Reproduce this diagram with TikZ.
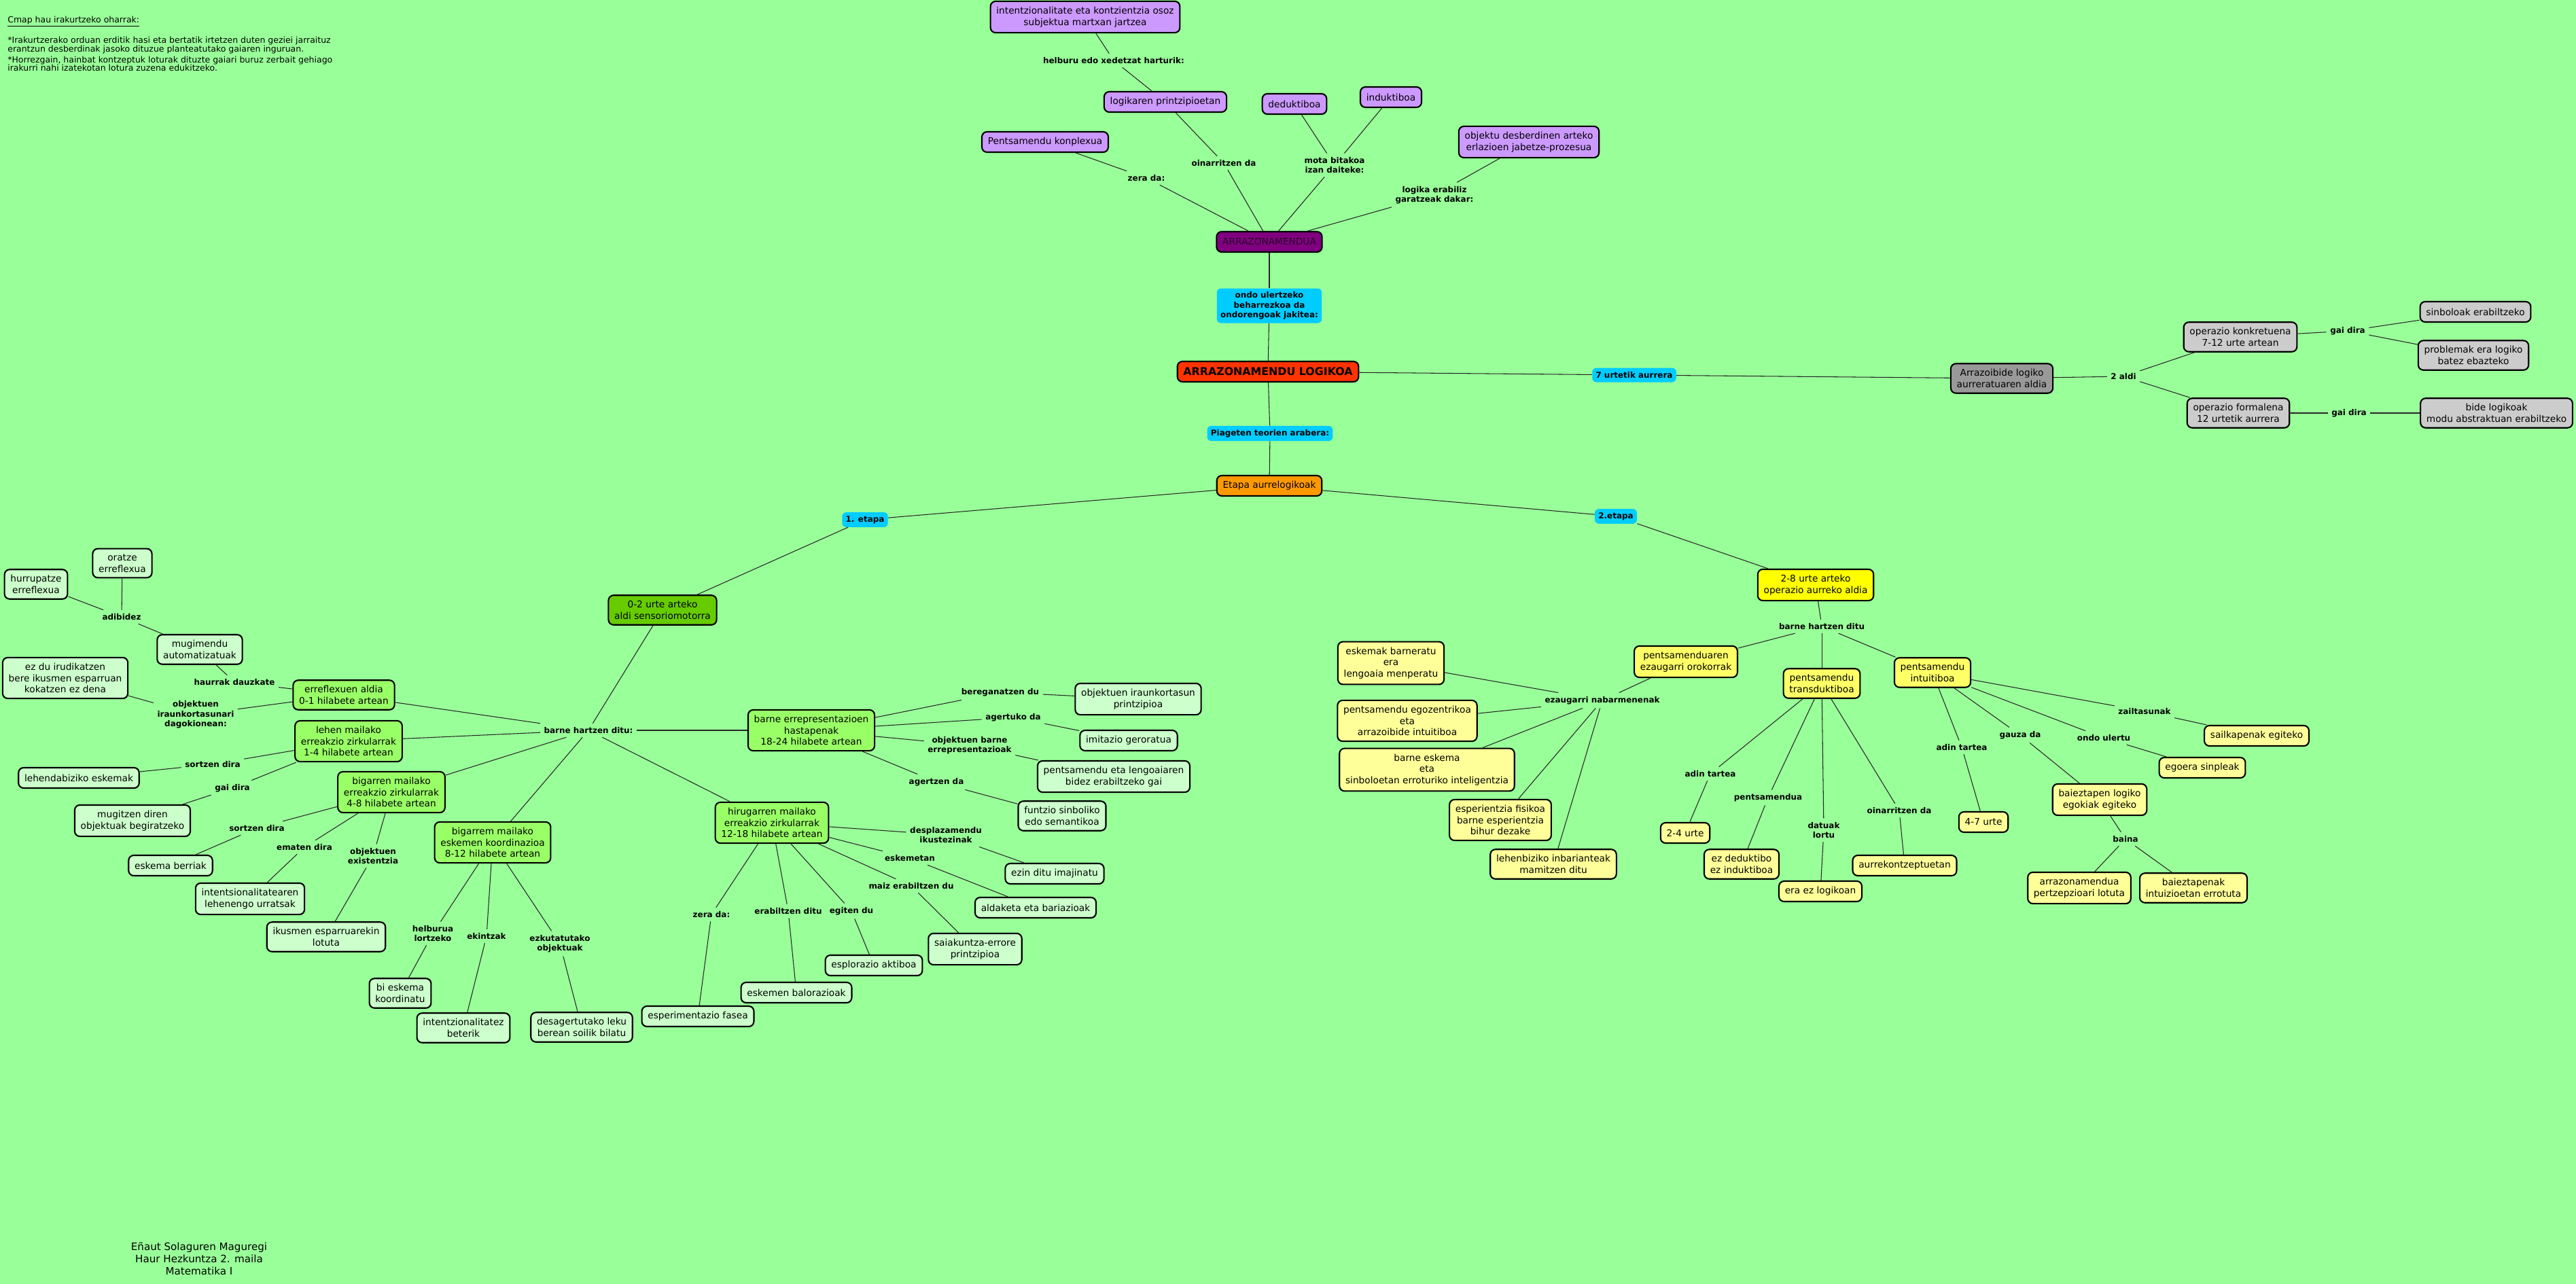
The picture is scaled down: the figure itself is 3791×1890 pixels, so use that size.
\documentclass[tikz,border=0pt]{standalone}
\usepackage{fontspec}
\setmainfont{DejaVu Sans}
\definecolor{bgC}{HTML}{99FF99}
\definecolor{vioC}{HTML}{CC99FF}
\definecolor{purC}{HTML}{800080}
\definecolor{cyaC}{HTML}{00CCFF}
\definecolor{redC}{HTML}{FF3300}
\definecolor{oraC}{HTML}{FF9900}
\definecolor{gryC}{HTML}{999999}
\definecolor{lgyC}{HTML}{CCCCCC}
\definecolor{dgrC}{HTML}{66CC00}
\definecolor{mgrC}{HTML}{99FF66}
\definecolor{lgrC}{HTML}{CCFFCC}
\definecolor{yelC}{HTML}{FFFF00}
\definecolor{ye2C}{HTML}{FFFF66}
\definecolor{pyeC}{HTML}{FFFF99}
\definecolor{txpC}{HTML}{2A002A}
\newcommand\nfont{\fontsize{7.8}{9.5}\selectfont}
\newcommand\lfont{\bfseries\fontsize{6.8}{8.2}\selectfont}
\tikzset{
  box/.style={draw=black, line width=1.2pt, rounded corners=0.15cm, align=center,
    inner xsep=5pt, inner ysep=4.6pt, minimum height=0.6cm, font=\nfont, text=black},
  fvio/.style={box, fill=vioC},
  fpur/.style={box, fill=purC, text=txpC},
  fred/.style={box, fill=redC, font=\bfseries\fontsize{9}{11}\selectfont},
  fora/.style={box, fill=oraC},
  fgry/.style={box, fill=gryC},
  flgy/.style={box, fill=lgyC},
  fdgr/.style={box, fill=dgrC},
  fmgr/.style={box, fill=mgrC},
  flgr/.style={box, fill=lgrC},
  fyel/.style={box, fill=yelC},
  fye2/.style={box, fill=ye2C},
  fpye/.style={box, fill=pyeC},
  lab/.style={font=\lfont, align=center, inner sep=3pt, text=black},
  cyl/.style={fill=cyaC, rounded corners=0.12cm, font=\lfont, align=center,
    inner xsep=3pt, inner ysep=3pt, minimum height=0.42cm, text=black},
  conn/.style={draw=black!85, line width=0.6pt}
}
\begin{document}
\begin{tikzpicture}[x=0.02cm, y=-0.02cm]
\useasboundingbox[fill=bgC] (0,0) rectangle (3791,1890);

% notes
\node[anchor=west, inner sep=0, font=\fontsize{7.1}{7.4}\selectfont] (title) at (11,32) {\underline{Cmap hau irakurtzeko oharrak:}};
\node[anchor=north west, inner sep=0, align=left, font=\fontsize{7.1}{7.3}\selectfont] (note) at (11,54)
 {*Irakurtzerako orduan erditik hasi eta bertatik irtetzen duten geziei jarraituz\\
  erantzun desberdinak jasoko dituzue planteatutako gaiaren inguruan.\\[1.5pt]
  *Horrezgain, hainbat kontzeptuk loturak dituzte gaiari buruz zerbait gehiago\\
  irakurri nahi izatekotan lotura zuzena edukitzeko.};
\node[align=center, inner sep=0, font=\fontsize{8.6}{10.2}\selectfont] (credits) at (293,1853)
 {Eñaut Solaguren Maguregi\\Haur Hezkuntza 2. maila\\Matematika I};

% top
\node[fvio] (intent) at (1597,25) {intentzionalitate eta kontzientzia osoz\\subjektua martxan jartzea};
\node[lab] (lhelburu) at (1639,89) {helburu edo xedetzat harturik:};
\node[fvio] (logikaren) at (1715,150) {logikaren printzipioetan};
\node[fvio] (dedukt) at (1905,153) {deduktiboa};
\node[fvio] (indukt) at (2047,143) {induktiboa};
\node[fvio] (konplex) at (1538,209) {Pentsamendu konplexua};
\node[fvio] (objektu) at (2250,209) {objektu desberdinen arteko\\erlazioen jabetze-prozesua};
\node[lab] (lzera) at (1687,262) {zera da:};
\node[lab] (loinarri) at (1801,240) {oinarritzen da};
\node[lab] (lmota) at (1964,243) {mota bitakoa\\izan daiteke:};
\node[lab] (llogika) at (2111,287) {logika erabiliz\\garatzeak dakar:};
\node[fpur] (arraz) at (1868,356) {ARRAZONAMENDUA};
\node[cyl] (condo) at (1868,450) {ondo ulertzeko\\beharrezkoa da\\ondorengoak jakitea:};
\node[fred] (logikoa) at (1866,547) {ARRAZONAMENDU LOGIKOA};
\node[cyl] (cpiaget) at (1869,638) {Piageten teorien arabera:};
\node[fora] (etapa) at (1868,715) {Etapa aurrelogikoak};
\node[cyl] (c7urte) at (2405,552) {7 urtetik aurrera};
\node[cyl] (c2etapa) at (2378,760) {2.etapa};
\node[cyl] (c1etapa) at (1273,765) {1. etapa};

% right top
\node[fgry] (aurreratu) at (2946,557) {Arrazoibide logiko\\aurreratuaren aldia};
\node[lab] (l2aldi) at (3125,554) {2 aldi};
\node[flgy] (konkret) at (3297,496) {operazio konkretuena\\7-12 urte artean};
\node[flgy] (formal) at (3294,608) {operazio formalena\\12 urtetik aurrera};
\node[lab] (lgai1) at (3455,487) {gai dira};
\node[lab] (lgai2) at (3457,608) {gai dira};
\node[flgy] (sinbolo) at (3643,459) {sinboloak erabiltzeko};
\node[flgy] (problem) at (3640,523) {problemak era logiko\\batez ebazteko};
\node[flgy] (bide) at (3674,608) {bide logikoak\\modu abstraktuan erabiltzeko};

% left cluster
\node[fdgr] (n02) at (975,898) {0-2 urte arteko\\aldi sensoriomotorra};
\node[lab] (lbarne) at (866,1075) {barne hartzen ditu:};
\node[fmgr] (errefl) at (506,1023) {erreflexuen aldia\\0-1 hilabete artean};
\node[fmgr] (lehen) at (513,1091) {lehen mailako\\erreakzio zirkularrak\\1-4 hilabete artean};
\node[fmgr] (bigarren) at (576,1166) {bigarren mailako\\erreakzio zirkularrak\\4-8 hilabete artean};
\node[fmgr] (bigarrem) at (725,1240) {bigarrem mailako\\eskemen koordinazioa\\8-12 hilabete artean};
\node[fmgr] (hirug) at (1136,1211) {hirugarren mailako\\erreakzio zirkularrak\\12-18 hilabete artean};
\node[fmgr] (barneerr) at (1194,1075) {barne errepresentazioen\\hastapenak\\18-24 hilabete artean};
\node[flgr] (oratze) at (180,829) {oratze\\erreflexua};
\node[flgr] (hurrup) at (53,860) {hurrupatze\\erreflexua};
\node[lab] (ladibidez) at (179,908) {adibidez};
\node[flgr] (mugimendu) at (294,956) {mugimendu\\automatizatuak};
\node[lab] (lhaurrak) at (345,1004) {haurrak dauzkate};
\node[flgr] (ezdu) at (96,998) {ez du irudikatzen\\bere ikusmen esparruan\\kokatzen ez dena};
\node[lab] (lobjirau) at (288,1052) {objektuen\\iraunkortasunari\\dagokionean:};
\node[lab] (lsortzen1) at (313,1125) {sortzen dira};
\node[flgr] (lehendab) at (116,1145) {lehendabiziko eskemak};
\node[lab] (lgai3) at (342,1160) {gai dira};
\node[flgr] (mugitzen) at (195,1208) {mugitzen diren\\objektuak begiratzeko};
\node[lab] (lsortzen2) at (378,1219) {sortzen dira};
\node[flgr] (eskber) at (251,1274) {eskema berriak};
\node[lab] (lematen) at (448,1247) {ematen dira};
\node[lab] (lobjexist) at (549,1260) {objektuen\\existentzia};
\node[flgr] (intents) at (368,1323) {intentsionalitatearen\\lehenengo urratsak};
\node[flgr] (ikusmen) at (480,1379) {ikusmen esparruarekin\\lotuta};
\node[lab] (lhelburua) at (637,1374) {helburua\\lortzeko};
\node[lab] (lekintzak) at (716,1378) {ekintzak};
\node[lab] (lezkut) at (824,1389) {ezkutatutako\\objektuak};
\node[flgr] (bieskema) at (589,1462) {bi eskema\\koordinatu};
\node[flgr] (intentz) at (682,1513) {intentzionalitatez\\beterik};
\node[flgr] (desager) at (856,1512) {desagertutako leku\\berean soilik bilatu};

% center bottom
\node[lab] (lbereg) at (1472,1019) {bereganatzen du};
\node[flgr] (objirau) at (1675,1029) {objektuen iraunkortasun\\printzipioa};
\node[lab] (lagertuko) at (1491,1056) {agertuko da};
\node[flgr] (imitazio) at (1661,1090) {imitazio geroratua};
\node[lab] (lobjbarne) at (1427,1097) {objektuen barne\\errepresentazioak};
\node[flgr] (pentleng) at (1639,1143) {pentsamendu eta lengoaiaren\\bidez erabiltzeko gai};
\node[lab] (lagertzen) at (1378,1151) {agertzen da};
\node[flgr] (funtzio) at (1563,1201) {funtzio sinboliko\\edo semantikoa};
\node[lab] (ldespl) at (1392,1229) {desplazamendu\\ikustezinak};
\node[lab] (leskemetan) at (1339,1263) {eskemetan};
\node[flgr] (ezin) at (1552,1286) {ezin ditu imajinatu};
\node[lab] (lmaiz) at (1341,1304) {maiz erabiltzen du};
\node[flgr] (aldaketa) at (1524,1336) {aldaketa eta bariazioak};
\node[lab] (lzera2) at (1047,1346) {zera da:};
\node[lab] (lerabiltzen) at (1160,1341) {erabiltzen ditu};
\node[lab] (legiten) at (1253,1341) {egiten du};
\node[flgr] (saiak) at (1435,1397) {saiakuntza-errore\\printzipioa};
\node[flgr] (esplor) at (1286,1421) {esplorazio aktiboa};
\node[flgr] (balor) at (1172,1461) {eskemen balorazioak};
\node[flgr] (esperim) at (1027,1496) {esperimentazio fasea};

% right bottom
\node[fyel] (n28) at (2672,861) {2-8 urte arteko\\operazio aurreko aldia};
\node[lab] (lbarne2) at (2681,922) {barne hartzen ditu};
\node[fye2] (pentezau) at (2481,974) {pentsamenduaren\\ezaugarri orokorrak};
\node[fye2] (transd) at (2681,1006) {pentsamendu\\transduktiboa};
\node[fye2] (intuit) at (2844,990) {pentsamendu\\intuitiboa};
\node[lab] (lezaug) at (2358,1031) {ezaugarri nabarmenenak};
\node[fpye] (eskemak) at (2047,976) {eskemak barneratu\\era\\lengoaia menperatu};
\node[fpye] (egozen) at (2071,1061) {pentsamendu egozentrikoa\\eta\\arrazoibide intuitiboa};
\node[fpye] (barnesk) at (2100,1133) {barne eskema\\eta\\sinboloetan erroturiko inteligentzia};
\node[fpye] (esperi) at (2208,1207) {esperientzia fisikoa\\barne esperientzia\\bihur dezake};
\node[fpye] (lehenbiz) at (2286,1272) {lehenbiziko inbarianteak\\mamitzen ditu};
\node[lab] (ladin1) at (2517,1139) {adin tartea};
\node[lab] (lpents) at (2602,1174) {pentsamendua};
\node[lab] (ldatuak) at (2684,1222) {datuak\\lortu};
\node[lab] (loinarri2) at (2795,1193) {oinarritzen da};
\node[fpye] (n24) at (2480,1226) {2-4 urte};
\node[fpye] (ezded) at (2563,1272) {ez deduktibo\\ez induktiboa};
\node[fpye] (eraez) at (2679,1312) {era ez logikoan};
\node[fpye] (aurrek) at (2803,1274) {aurrekontzeptuetan};
\node[lab] (ladin2) at (2887,1100) {adin tartea};
\node[lab] (lgauza) at (2973,1082) {gauza da};
\node[lab] (londoul) at (3096,1086) {ondo ulertu};
\node[lab] (lzailt) at (3156,1047) {zailtasunak};
\node[fpye] (n47) at (2919,1210) {4-7 urte};
\node[fpye] (sailk) at (3321,1083) {sailkapenak egiteko};
\node[fpye] (egoera) at (3241,1130) {egoera sinpleak};
\node[fpye] (baiezt) at (3090,1177) {baieztapen logiko\\egokiak egiteko};
\node[lab] (lbaina) at (3128,1235) {baina};
\node[fpye] (arrpert) at (3060,1307) {arrazonamendua\\pertzepzioari lotuta};
\node[fpye] (baiintu) at (3228,1307) {baieztapenak\\intuizioetan errotuta};

% connectors
\begin{scope}[conn]
\draw (intent) -- (lhelburu); \draw (lhelburu) -- (logikaren);
\draw (logikaren) -- (loinarri); \draw (loinarri) -- (arraz);
\draw (konplex) -- (lzera); \draw (lzera) -- (arraz);
\draw (dedukt) -- (lmota); \draw (indukt) -- (lmota); \draw (lmota) -- (arraz);
\draw (objektu) -- (llogika); \draw (llogika) -- (arraz);
\draw (arraz) -- (condo); \draw (condo) -- (logikoa);
\draw (logikoa) -- (cpiaget); \draw (cpiaget) -- (etapa);
\draw (logikoa) -- (c7urte); \draw (c7urte) -- (aurreratu);
\draw (aurreratu) -- (l2aldi); \draw (l2aldi) -- (konkret); \draw (l2aldi) -- (formal);
\draw (konkret) -- (lgai1); \draw (lgai1) -- (sinbolo); \draw (lgai1) -- (problem);
\draw (formal) -- (lgai2); \draw (lgai2) -- (bide);
\draw (etapa) -- (c1etapa); \draw (c1etapa) -- (n02);
\draw (etapa) -- (c2etapa); \draw (c2etapa) -- (n28);
% left
\draw (n02) -- (lbarne);
\draw (lbarne) -- (errefl); \draw (lbarne) -- (lehen); \draw (lbarne) -- (bigarren);
\draw (lbarne) -- (bigarrem); \draw (lbarne) -- (hirug); \draw (lbarne) -- (barneerr);
\draw (errefl) -- (lhaurrak); \draw (lhaurrak) -- (mugimendu);
\draw (mugimendu) -- (ladibidez); \draw (ladibidez) -- (oratze); \draw (ladibidez) -- (hurrup);
\draw (errefl) -- (lobjirau); \draw (lobjirau) -- (ezdu);
\draw (lehen) -- (lsortzen1); \draw (lsortzen1) -- (lehendab);
\draw (lehen) -- (lgai3); \draw (lgai3) -- (mugitzen);
\draw (bigarren) -- (lsortzen2); \draw (lsortzen2) -- (eskber);
\draw (bigarren) -- (lematen); \draw (lematen) -- (intents);
\draw (bigarren) -- (lobjexist); \draw (lobjexist) -- (ikusmen);
\draw (bigarrem) -- (lhelburua); \draw (lhelburua) -- (bieskema);
\draw (bigarrem) -- (lekintzak); \draw (lekintzak) -- (intentz);
\draw (bigarrem) -- (lezkut); \draw (lezkut) -- (desager);
% center
\draw (barneerr) -- (lbereg); \draw (lbereg) -- (objirau);
\draw (barneerr) -- (lagertuko); \draw (lagertuko) -- (imitazio);
\draw (barneerr) -- (lobjbarne); \draw (lobjbarne) -- (pentleng);
\draw (barneerr) -- (lagertzen); \draw (lagertzen) -- (funtzio);
\draw (hirug) -- (ldespl); \draw (ldespl) -- (ezin);
\draw (hirug) -- (leskemetan); \draw (leskemetan) -- (aldaketa);
\draw (hirug) -- (lmaiz); \draw (lmaiz) -- (saiak);
\draw (hirug) -- (legiten); \draw (legiten) -- (esplor);
\draw (hirug) -- (lerabiltzen); \draw (lerabiltzen) -- (balor);
\draw (hirug) -- (lzera2); \draw (lzera2) -- (esperim);
% right bottom
\draw (n28) -- (lbarne2);
\draw (lbarne2) -- (pentezau); \draw (lbarne2) -- (transd); \draw (lbarne2) -- (intuit);
\draw (pentezau) -- (lezaug);
\draw (lezaug) -- (eskemak); \draw (lezaug) -- (egozen); \draw (lezaug) -- (barnesk);
\draw (lezaug) -- (esperi); \draw (lezaug) -- (lehenbiz);
\draw (transd) -- (ladin1); \draw (ladin1) -- (n24);
\draw (transd) -- (lpents); \draw (lpents) -- (ezded);
\draw (transd) -- (ldatuak); \draw (ldatuak) -- (eraez);
\draw (transd) -- (loinarri2); \draw (loinarri2) -- (aurrek);
\draw (intuit) -- (ladin2); \draw (ladin2) -- (n47);
\draw (intuit) -- (lgauza); \draw (lgauza) -- (baiezt);
\draw (intuit) -- (londoul); \draw (londoul) -- (egoera);
\draw (intuit) -- (lzailt); \draw (lzailt) -- (sailk);
\draw (baiezt) -- (lbaina); \draw (lbaina) -- (arrpert); \draw (lbaina) -- (baiintu);
\end{scope}
\end{tikzpicture}
\end{document}
